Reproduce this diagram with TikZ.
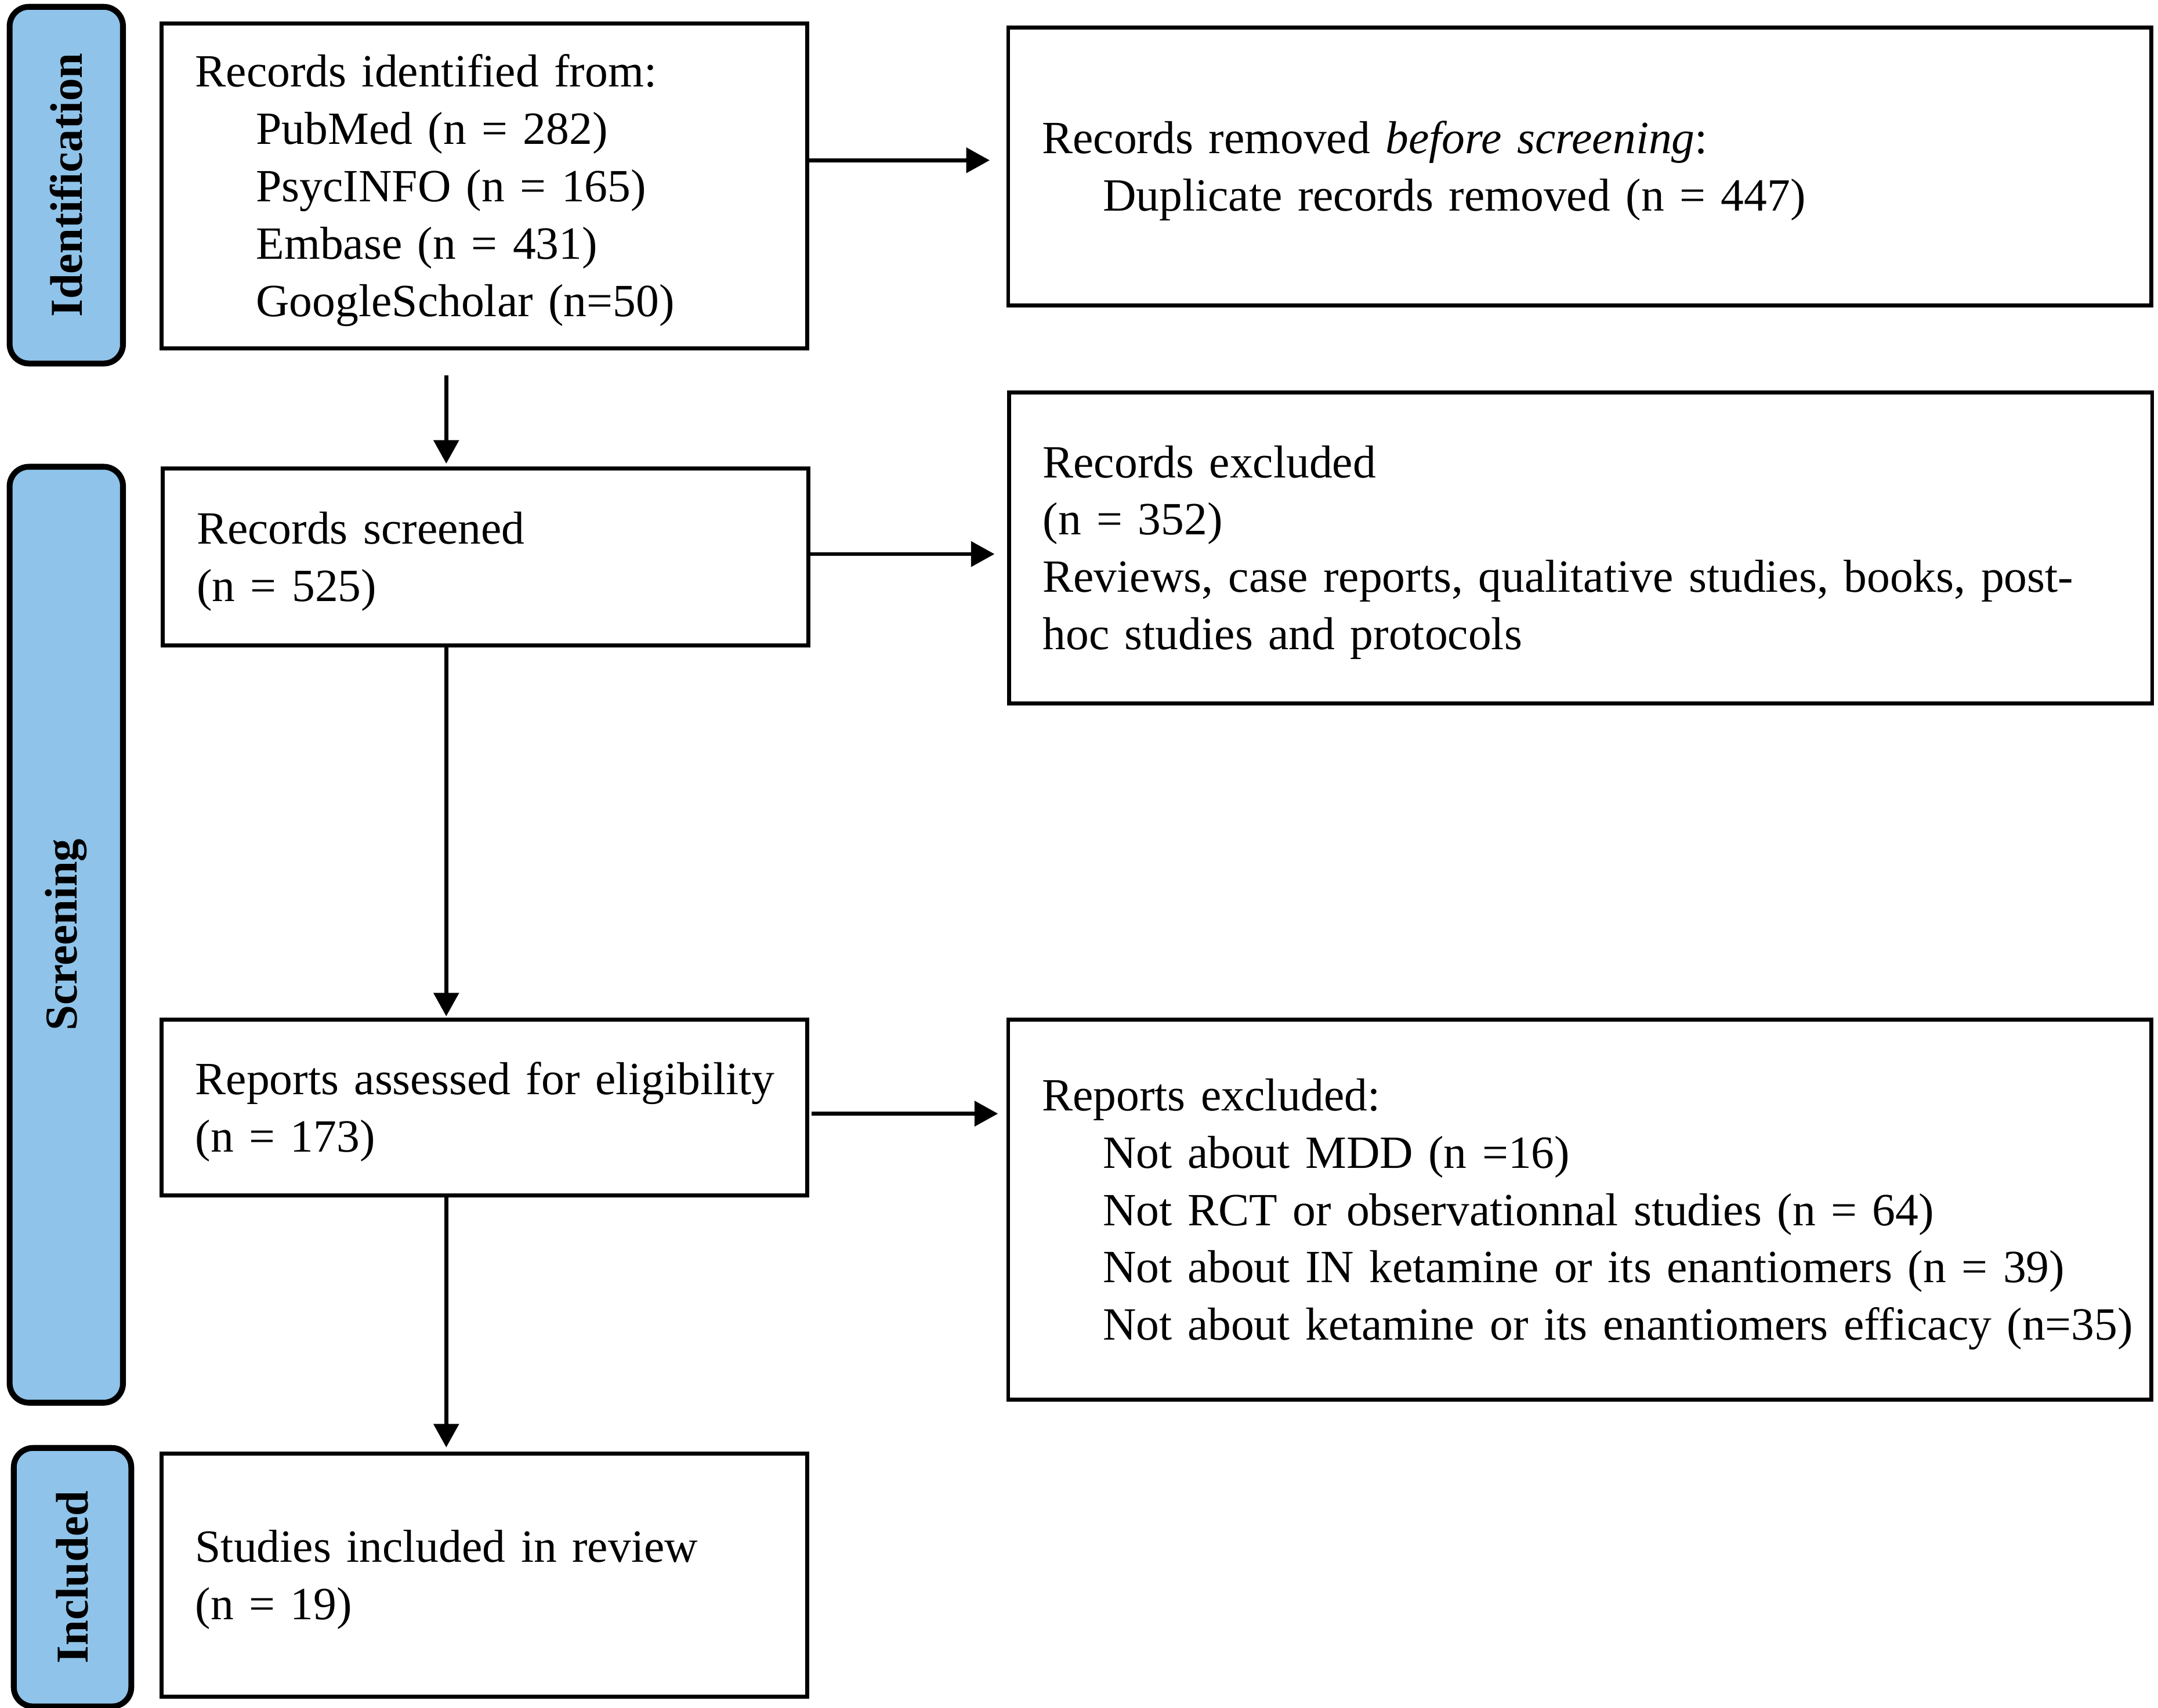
\documentclass[tikz,border=0pt]{standalone}
\usepackage{fontspec}
\setmainfont{Liberation Serif}[WordSpace=0.85]
\usetikzlibrary{arrows.meta}
\definecolor{pillblue}{RGB}{143,195,233}
\newcommand{\ind}{\hspace*{0.44cm}}
\newcommand{\oneline}[1]{\mbox{#1}}
\newcommand{\topstrut}{\rule{0pt}{8.5pt}}
\begin{document}
\begin{tikzpicture}[x=0.01cm,y=-0.01cm,
  box/.style={draw, line width=0.8pt, rectangle, align=left, inner xsep=0.245cm, inner ysep=0pt,
    font=\fontsize{9.5}{11.81}\selectfont},
  narrowbox/.style={box, text width=4.18cm, minimum width=4.67cm},
  widebox/.style={box, text width=7.78cm, minimum width=8.27cm},
  pill/.style={draw, line width=1.2pt, fill=pillblue, rounded corners=0.14cm, rotate=90,
    inner sep=0pt, font=\fontsize{9.4}{11}\selectfont\bfseries},
  arr/.style={-{Triangle[length=0.17cm,width=0.18cm]}, line width=0.8pt}]
\useasboundingbox (0,0) rectangle (1562,1236);

% phase labels
\node[pill, minimum width=2.58cm, minimum height=0.82cm] (pid) at (48,134) {Identification};
\node[pill, minimum width=6.77cm, minimum height=0.82cm] (pscr) at (48,676.5) {Screening};
\node[pill, minimum width=1.87cm, minimum height=0.85cm] (pinc) at (52.5,1141.5) {Included};

% boxes
\node[narrowbox, minimum height=2.35cm] (ident) at (350.5,134.5) {\topstrut\oneline{Records identified from:}\\
\oneline{\ind PubMed (n = 282)}\\
\oneline{\ind PsycINFO (n = 165)}\\
\oneline{\ind Embase (n = 431)}\\
\oneline{\ind GoogleScholar (n=50)}};

\node[widebox, minimum height=2.01cm] (removed) at (1143.5,120.5) {\topstrut\oneline{Records removed \textit{before screening}:}\\
\oneline{\ind Duplicate records removed (n = 447)}};

\node[narrowbox, minimum height=1.28cm] (screened) at (351.5,403) {\topstrut\oneline{Records screened}\\
\oneline{(n = 525)}};

\node[widebox, minimum height=2.25cm] (excluded) at (1144,396.5) {\topstrut\oneline{Records excluded}\\
\oneline{(n = 352)}\\
\oneline{Reviews, case reports, qualitative studies, books, post-}\\
\oneline{hoc studies and protocols}};

\node[narrowbox, minimum height=1.27cm] (assessed) at (350.5,801.5) {\topstrut\oneline{Reports assessed for eligibility}\\
\oneline{(n = 173)}};

\node[widebox, minimum height=2.75cm] (repexcl) at (1143.5,875.5) {\topstrut\oneline{Reports excluded:}\\
\oneline{\ind Not about MDD (n =16)}\\
\oneline{\ind Not RCT or observationnal studies (n = 64)}\\
\oneline{\ind Not about IN ketamine or its enantiomers (n = 39)}\\
\oneline{\ind Not about ketamine or its enantiomers efficacy (n=35)}};

\node[narrowbox, minimum height=1.76cm] (included) at (350.5,1140) {\topstrut\oneline{Studies included in review}\\
\oneline{(n = 19)}};

% helper coordinates
\coordinate (vx) at (323,0);
\coordinate (h1) at (0,116);
\coordinate (h2) at (0,401);
\coordinate (h3) at (0,806);

% connectors
\draw[arr, shorten >=0.12cm] (ident.east |- h1) -- (removed.west |- h1);
\draw[arr, shorten <=0.18cm, shorten >=0.02cm] (ident.south -| vx) -- (screened.north -| vx);
\draw[arr, shorten >=0.09cm] (screened.east |- h2) -- (excluded.west |- h2);
\draw[arr, shorten >=0.01cm] (screened.south -| vx) -- (assessed.north -| vx);
\draw[arr, shorten <=0.02cm, shorten >=0.06cm] (assessed.east |- h3) -- (repexcl.west |- h3);
\draw[arr, shorten >=0.03cm] (assessed.south -| vx) -- (included.north -| vx);
\end{tikzpicture}
\end{document}
